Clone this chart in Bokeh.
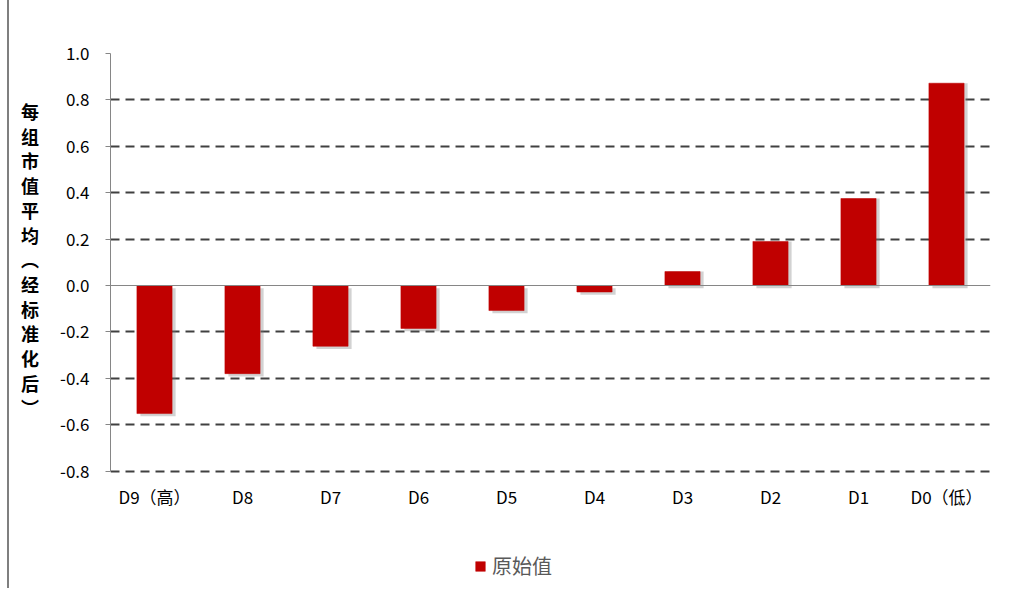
from bokeh.plotting import figure
from bokeh.models import FixedTicker, NumeralTickFormatter, Span, Legend, LegendItem, ColumnDataSource
from bokeh.transform import dodge
from bokeh.embed import file_html
from bokeh.resources import INLINE

categories = ["D9（高）", "D8", "D7", "D6", "D5", "D4", "D3", "D2", "D1", "D0（低）"]
values = [-0.552, -0.38, -0.262, -0.185, -0.108, -0.028, 0.06, 0.19, 0.375, 0.872]
y_ticks = [-0.8, -0.6, -0.4, -0.2, 0.0, 0.2, 0.4, 0.6, 0.8, 1.0]
y_label_chars = ["每", "组", "市", "值", "平", "均", "︵", "经", "标", "准", "化", "后", "︶"]
series_name = "原始值"

y_min, y_max = y_ticks[0], y_ticks[-1]

src = ColumnDataSource(data=dict(cat=categories, val=values,
                                 shadow=[v - 0.012 if v < 0 else v for v in values],
                                 label_y=[y_min] * len(categories)))

p = figure(x_range=categories, y_range=(-1.306, y_max), width=1001, height=588,
           output_backend="svg", toolbar_location=None,
           min_border_left=101, min_border_right=20, min_border_top=53, min_border_bottom=0)
p.outline_line_color = None
p.background_fill_color = "white"

p.xgrid.grid_line_color = None
p.ygrid.ticker = FixedTicker(ticks=[t for t in y_ticks if t != 0.0])
p.ygrid.grid_line_color = "#404040"
p.ygrid.grid_line_width = 2
p.ygrid.grid_line_dash = "9 6"

p.add_layout(Span(location=0, dimension="width", line_color="#868686", line_width=1))

# shadow
p.vbar(x=dodge("cat", 0.04, range=p.x_range), top="shadow", bottom=-0.012, width=0.4,
       source=src, fill_color="#7f7f7f", fill_alpha=0.35, line_color=None)
r = p.vbar(x="cat", top="val", bottom=0, width=0.4, source=src,
           fill_color="#C00000", line_color="#C00000", line_width=0.5)

# category labels under the -0.8 line
p.text(x="cat", y="label_y", text="cat", source=src, y_offset=13,
       text_align="center", text_baseline="top",
       text_font={"value": "Noto Sans CJK SC"}, text_font_size="17px", text_color="#000000")

p.xaxis.visible = False

p.yaxis.bounds = (y_min, y_max)
p.yaxis.ticker = FixedTicker(ticks=y_ticks)
p.yaxis.formatter = NumeralTickFormatter(format="0.0")
p.yaxis.major_label_text_font = "Noto Sans CJK SC"
p.yaxis.major_label_text_font_size = "17px"
p.yaxis.major_label_text_color = "#000000"
p.yaxis.axis_line_color = "#868686"
p.yaxis.major_tick_line_color = "#868686"
p.yaxis.major_tick_out = 5
p.yaxis.major_tick_in = 0
p.yaxis.minor_tick_line_color = None
p.yaxis.major_label_standoff = 16
# blank trailing lines lift the stacked label to its place beside the value axis
p.yaxis.axis_label = "\n".join(y_label_chars + ["\u3000"] * 5)
p.yaxis.axis_label_orientation = "horizontal"
p.yaxis.axis_label_text_font = "Noto Sans CJK SC"
p.yaxis.axis_label_text_font_size = "18px"
p.yaxis.axis_label_text_font_style = "bold"
p.yaxis.axis_label_text_color = "#000000"
p.yaxis.axis_label_text_line_height = 0.95
p.yaxis.axis_label_standoff = 18

legend = Legend(items=[LegendItem(label=series_name, renderers=[r])],
                orientation="horizontal", location=(364, 8),
                label_text_font="Noto Sans CJK SC", label_text_font_size="20px",
                label_text_color="#595959", glyph_width=12, glyph_height=12,
                border_line_color=None, background_fill_alpha=0, margin=0, padding=4,
                label_standoff=6)
p.add_layout(legend)
p.styles = {"border-left": "2px solid #7f7f7f", "margin-left": "7px"}

open("out.html", "w").write(file_html(p, INLINE))
